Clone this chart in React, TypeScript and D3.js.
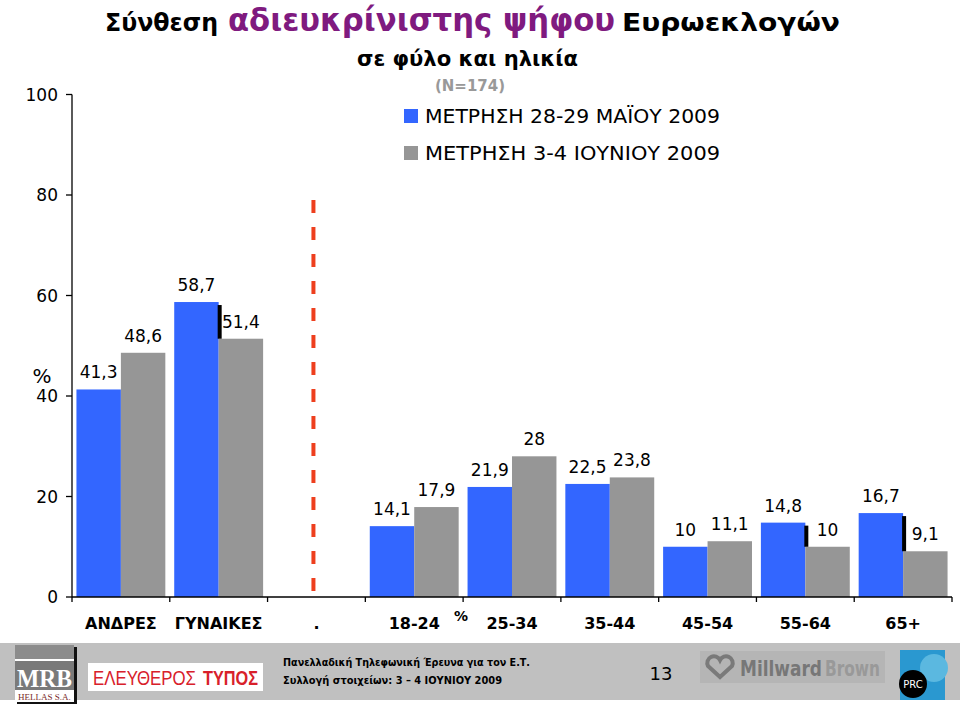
import React from "react";
import * as d3 from "d3";

const categories = ["ΑΝΔΡΕΣ", "ΓΥΝΑΙΚΕΣ", ".", "18-24", "25-34", "35-44", "45-54", "55-64", "65+"];
const seriesNames = ["ΜΕΤΡΗΣΗ 28-29 ΜΑΪΟΥ 2009", "ΜΕΤΡΗΣΗ 3-4 ΙΟΥΝΙΟΥ 2009"];
const mayValues: (number | null)[] = [41.3, 58.7, null, 14.1, 21.9, 22.5, 10, 14.8, 16.7];
const juneValues: (number | null)[] = [48.6, 51.4, null, 17.9, 28, 23.8, 11.1, 10, 9.1];
const yTicks = [0, 20, 40, 60, 80, 100];
const seriesColors = ["#3366FF", "#969696"];

const FONT = "'DejaVu Sans', Verdana, sans-serif";

export default function App() {
  const W = 960, H = 705;
  const left = 72, right = 952, top = 94.5, bottom = 597;
  const y = d3.scaleLinear().domain([0, 100]).range([bottom, top]);
  const x0 = d3.scaleBand<string>().domain(categories).range([left, right]).padding(0);
  const x1 = d3.scaleBand<number>().domain([0, 1]).range([0, x0.bandwidth()]).paddingInner(0).paddingOuter(0.1);
  const series = [mayValues, juneValues];
  const fmt = (v: number) => String(v).replace(".", ",");
  const dotCat = categories[2];
  const dashX = (x0(dotCat) as number) + x0.bandwidth() / 2 - 3;
  const bounds = categories.map((c) => x0(c) as number).concat([right]);

  return (
    <svg width={W} height={H} style={{ position: "absolute", left: 0, top: 0, display: "block", background: "#fff" }} fontFamily={FONT}>
      {/* Title */}
      <text x={105} y={31} fontWeight="bold" fontSize={24} fill="#000" textLength={113} lengthAdjust="spacingAndGlyphs">Σύνθεση</text>
      <text x={228} y={31} fontWeight="bold" fontSize={32} fill="#7F1A7F" textLength={387} lengthAdjust="spacingAndGlyphs">αδιευκρίνιστης ψήφου</text>
      <text x={622} y={31} fontWeight="bold" fontSize={24} fill="#000" textLength={218} lengthAdjust="spacingAndGlyphs">Ευρωεκλογών</text>
      <text x={357} y={66} fontSize={21} fontWeight="bold" textLength={221} lengthAdjust="spacingAndGlyphs">σε φύλο και ηλικία</text>
      <text x={470} y={91} fontSize={15} fontWeight="bold" fill="#999" textAnchor="middle">(N=174)</text>

      {/* Legend */}
      {seriesNames.map((n, i) => (
        <g key={n} transform={`translate(404, ${109 + i * 37})`}>
          <rect width={14} height={14} fill={seriesColors[i]} />
          <text x={21} y={14} fontSize={19} fill="#000" textLength={295} lengthAdjust="spacingAndGlyphs">{n}</text>
        </g>
      ))}

      {/* Y axis */}
      <line x1={left} x2={left} y1={top} y2={bottom} stroke="#000" strokeWidth={1.3} />
      {yTicks.map((t) => (
        <g key={t}>
          <line x1={left - 6} x2={left} y1={y(t)} y2={y(t)} stroke="#000" strokeWidth={1.3} />
          <text x={58} y={y(t) + 6} fontSize={17} textAnchor="end">{t}</text>
        </g>
      ))}
      <text x={42} y={383} fontSize={20} textAnchor="middle">%</text>

      {/* Bars */}
      {categories.map((c, ci) => (
        <g key={c} transform={`translate(${x0(c)},0)`}>
          {series.map((s, si) => {
            const v = s[ci];
            if (v == null) return null;
            const bx = x1(si) as number;
            return (
              <g key={si}>
                <rect x={bx} y={y(v)} width={x1.bandwidth()} height={bottom - y(v)} fill={seriesColors[si]} />
                <text x={bx + x1.bandwidth() / 2} y={y(v) - 11} fontSize={17} textAnchor="middle">{fmt(v)}</text>
              </g>
            );
          })}
          {mayValues[ci] != null && juneValues[ci] != null && (mayValues[ci] as number) > (juneValues[ci] as number) && (
            <rect x={(x1(1) as number) - 1} y={y(mayValues[ci] as number) + 3} width={4}
              height={y(juneValues[ci] as number) - y(mayValues[ci] as number) - 3} fill="#000" />
          )}
        </g>
      ))}

      {/* Red dashed separator */}
      <line x1={dashX} x2={dashX} y1={200} y2={bottom} stroke="#EE3F1E" strokeWidth={4} strokeDasharray="13 14" />

      {/* X axis */}
      <line x1={left} x2={right} y1={bottom} y2={bottom} stroke="#000" strokeWidth={1.3} />
      {bounds.map((b, i) => (
        <line key={i} x1={b} x2={b} y1={bottom} y2={bottom + 5} stroke="#000" strokeWidth={1.3} />
      ))}
      {categories.map((c) => (
        <text key={c} x={(x0(c) as number) + x0.bandwidth() / 2} y={629} fontSize={16} fontWeight="bold" textAnchor="middle">{c}</text>
      ))}
      <text x={461} y={621} fontSize={14} fontWeight="bold" textAnchor="middle">%</text>

      {/* Footer */}
      <rect x={0} y={643} width={W} height={57} fill="#C0C0C0" />
      {/* MRB logo */}
      <rect x={17} y={647} width={60} height={57} fill="#111" />
      <rect x={15} y={645} width={59} height={57} fill="#fff" />
      <rect x={15} y={645} width={59} height={14} fill="#8C8C8C" />
      <rect x={15} y={661} width={59} height={29} fill="#7A7A7A" />
      <text x={17} y={687} fontSize={26} fontWeight="bold" fill="#fff" fontFamily="'Liberation Serif', serif" textLength={55} lengthAdjust="spacingAndGlyphs">MRB</text>
      <text x={44.5} y={700} fontSize={9} fill="#7A2A2A" textAnchor="middle" fontFamily="'Liberation Serif', serif">HELLAS S.A.</text>
      {/* Eleftheros Typos logo */}
      <rect x={88} y={663} width={175} height={28} fill="#fff" />
      <text x={93} y={685} fontSize={20} fill="#D8202A" fontFamily="'Liberation Sans', sans-serif" textLength={103} lengthAdjust="spacingAndGlyphs">ΕΛΕΥΘΕΡΟΣ</text>
      <text x={203} y={685} fontSize={20} fontWeight="bold" fill="#D8202A" fontFamily="'Liberation Sans', sans-serif" textLength={55} lengthAdjust="spacingAndGlyphs">ΤΥΠΟΣ</text>
      {/* footer text */}
      <text x={283} y={666} fontSize={11} fontWeight="bold" fill="#000" textLength={247} lengthAdjust="spacingAndGlyphs">Πανελλαδική  Τηλεφωνική Έρευνα για τον Ε.Τ.</text>
      <text x={283} y={684} fontSize={11} fontWeight="bold" fill="#000" textLength={219} lengthAdjust="spacingAndGlyphs">Συλλογή στοιχείων: 3 – 4 ΙΟΥΝΙΟΥ 2009</text>
      <text x={661} y={680} fontSize={18} fill="#000" textAnchor="middle">13</text>
      {/* MillwardBrown logo */}
      <rect x={700} y={651} width={185} height={32} fill="#B5B5B5" />
      <g transform="translate(720,667)" fill="none" stroke="#7A7A7A" strokeWidth={4}>
        <path d="M0,10 L-12,-1 A6,6 0 0 1 0,-7 A6,6 0 0 1 12,-1 Z" />
      </g>
      <text x={740} y={676} fontSize={21} fontWeight="bold" fill="#777" textLength={82} lengthAdjust="spacingAndGlyphs">Millward</text>
      <text x={825} y={676} fontSize={21} fontWeight="bold" fill="#999" textLength={55} lengthAdjust="spacingAndGlyphs">Brown</text>
      {/* PRC logo */}
      <rect x={900} y={650} width={45} height={50} fill="#2A98D0" />
      <circle cx={934} cy={668} r={14} fill="#5BB8E0" />
      <circle cx={913} cy={684} r={14} fill="#000" />
      <text x={913} y={688} fontSize={10} fill="#fff" textAnchor="middle">PRC</text>
    </svg>
  );
}
